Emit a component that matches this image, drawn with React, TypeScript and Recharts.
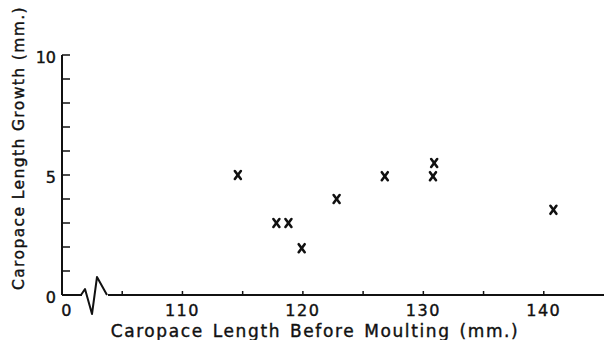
import React from 'react';
import { ScatterChart, Scatter, XAxis, YAxis, Label } from 'recharts';

// carapace length before moulting (mm) and the growth at the moult (mm)
const lengthBefore = [114.6, 117.8, 118.8, 119.9, 122.8, 126.8, 130.9, 130.8, 140.8];
const lengthGrowth = [5.0, 3.0, 3.0, 1.95, 4.0, 4.95, 5.5, 4.95, 3.55];

const xTicks = [100, 105, 110, 115, 120, 125, 130, 135, 140];
const xTickLabels = ['0', '', '110', '', '120', '', '130', '', '140'];
const yTicks = [0, 1, 2, 3, 4, 5, 6, 7, 8, 9, 10];
const yTickLabels = ['0', '', '', '', '', '5', '', '', '', '', '10'];

const FONT = '"DejaVu Sans", sans-serif';
const INK = '#111';

const data = lengthBefore.map((x, i) => ({ x, y: lengthGrowth[i] }));

// cross marker drawn like a typed "x"
const Cross = (props: any) => {
  const { cx, cy } = props;
  if (cx == null || cy == null) return null;
  return (
    <g stroke={INK} strokeWidth={2.6} strokeLinecap="round">
      <line x1={cx - 3} y1={cy - 4} x2={cx + 3} y2={cy + 4} />
      <line x1={cx + 3} y1={cy - 4} x2={cx - 3} y2={cy + 4} />
    </g>
  );
};

// x tick: label plus the axis break next to the origin
const XTick = (props: any) => {
  const { x, y, payload, index } = props;
  const label = xTickLabels[xTicks.indexOf(payload.value)] ?? '';
  const axisY = y - 10;
  const isOrigin = index === 0;
  return (
    <g>
      {isOrigin && (
        <>
          <rect x={x + 20} y={axisY - 3} width={26} height={6} fill="#fff" />
          <path
            d={`M${x + 19},${axisY} L${x + 23},${axisY - 6} L${x + 30},${axisY + 19} L${x + 35},${axisY - 18} L${x + 45},${axisY}`}
            fill="none"
            stroke={INK}
            strokeWidth={2}
            strokeLinejoin="round"
          />
        </>
      )}
      {label && (
        <text
          x={x + (isOrigin ? 5 : 0)}
          y={y}
          dy="0.71em"
          textAnchor="middle"
          fontFamily={FONT}
          fontSize={16}
          letterSpacing={1.5}
          fill={INK}
          stroke={INK}
          strokeWidth={0.4}
        >
          {label}
        </text>
      )}
    </g>
  );
};

export default function App() {
  return (
    <div style={{ position: 'absolute', left: 0, top: 0, background: '#fff' }}>
      <ScatterChart width={605} height={340} margin={{ top: 55, right: 1, left: 0, bottom: 0 }}>
        <XAxis
          type="number"
          dataKey="x"
          domain={[100, 145]}
          ticks={xTicks}
          interval={0}
          height={45}
          tickSize={-4}
          tickMargin={14}
          tick={<XTick />}
          axisLine={{ stroke: INK, strokeWidth: 2 }}
          tickLine={{ stroke: INK, strokeWidth: 1.5 }}
        >
          <Label
            value="Caropace Length Before Moulting (mm.)"
            position="insideBottom"
            offset={3}
            dx={-18}
            fontFamily={FONT}
            fontSize={17}
            letterSpacing={1.6}
            style={{ wordSpacing: 2 }}
            fill={INK}
            stroke={INK}
            strokeWidth={0.4}
          />
        </XAxis>
        <YAxis
          type="number"
          dataKey="y"
          domain={[0, 10]}
          ticks={yTicks}
          interval={0}
          width={62}
          tickSize={-8}
          tickMargin={14}
          tickFormatter={(v: number) => yTickLabels[yTicks.indexOf(v)] ?? ''}
          tick={{ fontFamily: FONT, fontSize: 16, fill: INK, stroke: INK, strokeWidth: 0.4, dy: 2 }}
          axisLine={{ stroke: INK, strokeWidth: 2 }}
          tickLine={{ stroke: INK, strokeWidth: 1.5 }}
        >
          <Label
            value="Caropace Length Growth (mm.)"
            position="center"
            angle={-90}
            dx={-13}
            dy={-27}
            fontFamily={FONT}
            fontSize={15.5}
            letterSpacing={1.4}
            fill={INK}
            stroke={INK}
            strokeWidth={0.4}
          />
        </YAxis>
        <Scatter data={data} shape={<Cross />} isAnimationActive={false} />
      </ScatterChart>
    </div>
  );
}
